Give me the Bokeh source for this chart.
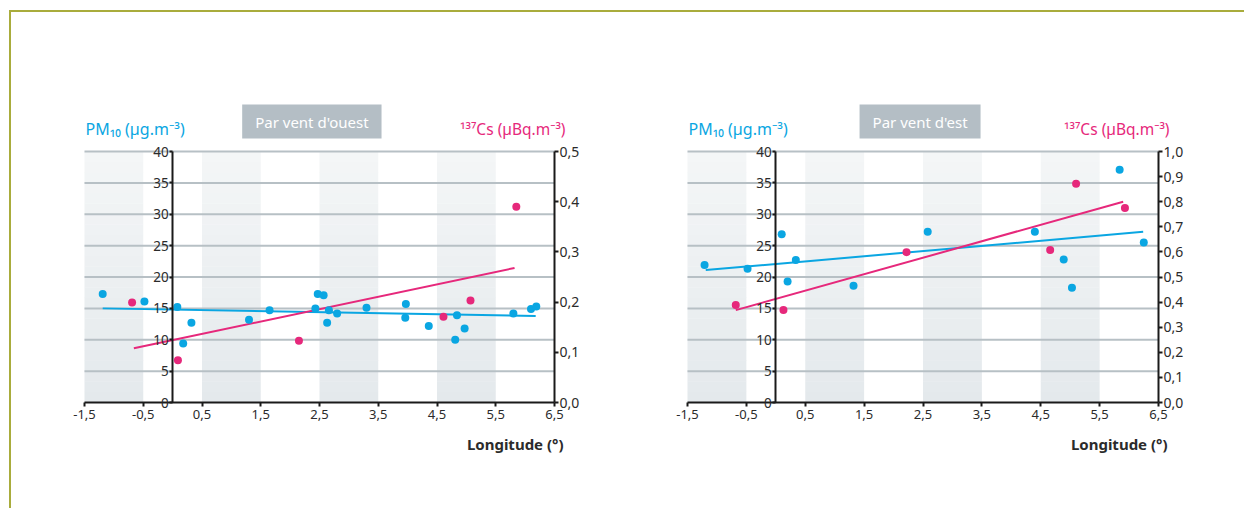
import numpy as np
from bokeh.plotting import figure
from bokeh.models import LinearAxis, Range1d, FixedTicker, Label
from bokeh.layouts import row
from bokeh.embed import file_html
from bokeh.resources import INLINE

# ---------------- data ----------------
west_pm_lon = [-1.19, -0.48, 0.08, 0.32, 0.18, 1.30, 1.65, 2.43, 2.47, 2.57, 2.66, 2.63, 2.80,
               3.30, 3.97, 3.96, 4.36, 4.84, 4.81, 4.97, 5.80, 6.10, 6.19]
west_pm = [17.3, 16.1, 15.2, 12.7, 9.4, 13.2, 14.7, 15.0, 17.3, 17.1, 14.7, 12.7, 14.2,
           15.1, 15.7, 13.5, 12.2, 13.9, 10.0, 11.8, 14.2, 14.9, 15.3]
west_cs_lon = [-0.69, 0.09, 2.15, 4.61, 5.07, 5.85]
west_cs = [0.199, 0.084, 0.123, 0.171, 0.203, 0.390]
west_pm_fit_lon = [-1.19, 6.18]
west_pm_fit = [15.0, 13.8]
west_cs_fit_lon = [-0.66, 5.82]
west_cs_fit = [0.108, 0.268]

east_pm_lon = [-1.21, -0.48, 0.10, 0.34, 0.20, 1.32, 2.58, 4.40, 4.89, 5.03, 5.84, 6.25]
east_pm = [21.9, 21.3, 26.8, 22.7, 19.3, 18.6, 27.2, 27.2, 22.8, 18.3, 37.1, 25.5]
east_cs_lon = [-0.68, 0.13, 2.22, 4.66, 5.10, 5.93]
east_cs = [0.388, 0.369, 0.599, 0.608, 0.872, 0.775]
east_pm_fit_lon = [-1.19, 6.24]
east_pm_fit = [21.1, 27.2]
east_cs_fit_lon = [-0.68, 5.90]
east_cs_fit = [0.368, 0.80]

x_ticks = [-1.5, -0.5, 0.5, 1.5, 2.5, 3.5, 4.5, 5.5, 6.5]
x_tick_labels = ["-1,5", "-0,5", "0,5", "1,5", "2,5", "3,5", "4,5", "5,5", "6,5"]
pm_ticks = [0, 5, 10, 15, 20, 25, 30, 35, 40]
west_cs_ticks = [0.0, 0.1, 0.2, 0.3, 0.4, 0.5]
west_cs_labels = ["0,0", "0,1", "0,2", "0,3", "0,4", "0,5"]
east_cs_ticks = [0.0, 0.1, 0.2, 0.3, 0.4, 0.5, 0.6, 0.7, 0.8, 0.9, 1.0]
east_cs_labels = ["0,0", "0,1", "0,2", "0,3", "0,4", "0,5", "0,6", "0,7", "0,8", "0,9", "1,0"]
band_starts = [-1.5, 0.5, 2.5, 4.5]

BLUE = "#0aa6e2"
PINK = "#e6287b"
GRID = "#b7c0c5"
TXT = "#2b2b2b"
FONT = "Noto Sans"

X_MIN, X_MAX = -1.5, 6.5
PM_MAX = 40


def lerp_hex(c1, c2, t):
    a = [int(c1[i:i + 2], 16) for i in (1, 3, 5)]
    b = [int(c2[i:i + 2], 16) for i in (1, 3, 5)]
    return "#%02x%02x%02x" % tuple(int(round(a[k] + (b[k] - a[k]) * t)) for k in range(3))


def make_chart(title, title_x, pm_lon, pm, cs_lon, cs, pm_fit_lon, pm_fit, cs_fit_lon, cs_fit,
               cs_max, cs_ticks, cs_labels, fig_w, left_off, plot_w):
    fig_h = 496
    top_off = 139          # px from figure top to PM=40
    plot_h = 251           # px from PM=40 to PM=0
    kx = plot_w / (X_MAX - X_MIN)
    ky = plot_h / PM_MAX
    x0 = X_MIN - left_off / kx
    x1 = x0 + fig_w / kx
    y1 = PM_MAX + top_off / ky
    y0 = y1 - fig_h / ky
    r = cs_max / PM_MAX

    p = figure(frame_width=fig_w, frame_height=fig_h, min_border=0,
               x_range=Range1d(x0, x1), y_range=Range1d(y0, y1),
               x_axis_location=None, y_axis_location=None,
               toolbar_location=None, output_backend="svg",
               outline_line_color=None, background_fill_color="white",
               border_fill_color="white")
    p.grid.visible = False
    p.extra_y_ranges = {"cs": Range1d(y0 * r, y1 * r)}

    # shaded bands with vertical gradient
    n = 24
    edges = np.linspace(0, PM_MAX, n + 1)
    for b in band_starts:
        cols = [lerp_hex("#e4e9ec", "#f4f6f7", (i + 0.5) / n) for i in range(n)]
        p.quad(left=[b] * n, right=[b + 1] * n, bottom=edges[:-1], top=edges[1:] + 0.05,
               fill_color=cols, line_color=None)

    # horizontal grid lines at the PM ticks
    g = pm_ticks[1:]
    p.segment(x0=[X_MIN] * len(g), x1=[X_MAX] * len(g), y0=g, y1=g,
              line_color=GRID, line_width=2)

    xax = LinearAxis(ticker=FixedTicker(ticks=x_ticks), fixed_location=0, bounds=(X_MIN, X_MAX),
                     major_label_overrides={t: l for t, l in zip(x_ticks, x_tick_labels)})
    lax = LinearAxis(ticker=FixedTicker(ticks=pm_ticks), fixed_location=0, bounds=(0, PM_MAX))
    rax = LinearAxis(y_range_name="cs", ticker=FixedTicker(ticks=cs_ticks), fixed_location=X_MAX,
                     bounds=(0, cs_max),
                     major_label_overrides={t: l for t, l in zip(cs_ticks, cs_labels)})
    for ax in (xax, lax, rax):
        ax.axis_line_width = 2
        ax.axis_line_color = "#1a1a1a"
        ax.major_tick_line_color = "#1a1a1a"
        ax.major_tick_line_width = 2
        ax.major_tick_in = 0
        ax.major_tick_out = 4
        ax.minor_tick_line_color = None
        ax.major_label_text_font = FONT
        ax.major_label_text_color = TXT
    xax.major_label_text_font_size = "13px"
    xax.major_label_standoff = 3
    lax.major_label_text_font_size = "13.5px"
    lax.major_label_standoff = 1
    lax.major_tick_out = 3
    rax.major_label_text_font_size = "14px"
    rax.major_label_standoff = 1
    p.add_layout(xax, "below")
    p.add_layout(lax, "left")
    p.add_layout(rax, "right")

    p.line(pm_fit_lon, pm_fit, line_color=BLUE, line_width=2)
    p.line(cs_fit_lon, cs_fit, line_color=PINK, line_width=2, y_range_name="cs")
    p.scatter(pm_lon, pm, size=8, fill_color=BLUE, line_color=None)
    p.scatter(cs_lon, cs, size=8, fill_color=PINK, line_color=None, y_range_name="cs")

    p.add_layout(Label(x=X_MIN, y=PM_MAX, x_offset=1, y_offset=23, text="PM₁₀ (µg.m⁻³)",
                       text_color=BLUE, text_font=FONT, text_font_size="16px",
                       text_baseline="alphabetic"))
    p.add_layout(Label(x=X_MAX, y=PM_MAX, x_offset=11, y_offset=23, text="¹³⁷Cs (µBq.m⁻³)",
                       text_color=PINK, text_font=FONT, text_font_size="15.5px",
                       text_align="right", text_baseline="alphabetic"))
    p.add_layout(Label(x=title_x, y=PM_MAX, y_offset=30, text=title, text_color="white",
                       text_font=FONT, text_font_size="15px", text_align="center",
                       text_baseline="middle", background_fill_color="#b4bec5",
                       padding=(13, 7)))
    p.add_layout(Label(x=X_MAX, y=0, x_offset=9, y_offset=-41, text="Longitude (°)",
                       text_color=TXT, text_font=FONT, text_font_size="15px",
                       text_font_style="bold", text_align="right", text_baseline="alphabetic"))
    return p


p1 = make_chart("Par vent d'ouest", 2.37, west_pm_lon, west_pm, west_cs_lon, west_cs,
                west_pm_fit_lon, west_pm_fit, west_cs_fit_lon, west_cs_fit,
                0.5, west_cs_ticks, west_cs_labels, 609, 73, 470)
p2 = make_chart("Par vent d'est", 2.45, east_pm_lon, east_pm, east_cs_lon, east_cs,
                east_pm_fit_lon, east_pm_fit, east_cs_fit_lon, east_cs_fit,
                1.0, east_cs_ticks, east_cs_labels, 624, 67, 471)

layout = row(p1, p2, margin=(10, 0, 0, 9),
             styles={"border-top": "2px solid #a9ac3c", "border-left": "2px solid #a9ac3c"})

open("out.html", "w").write(file_html(layout, INLINE))
